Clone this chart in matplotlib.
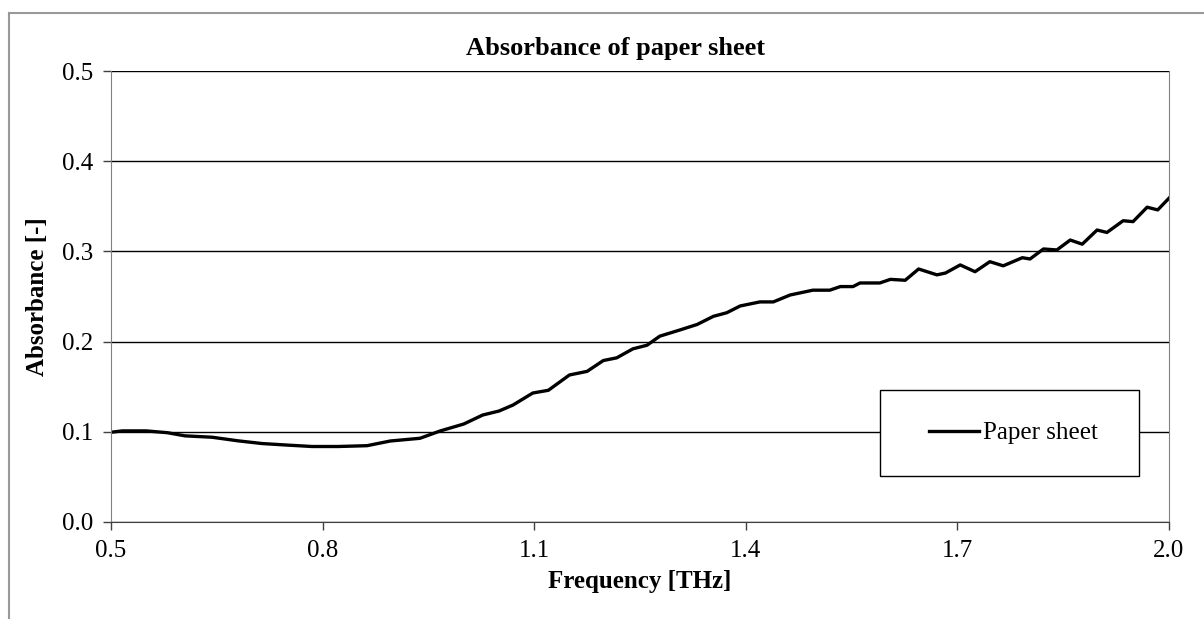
import numpy as np
import matplotlib.pyplot as plt
from matplotlib.lines import Line2D
from matplotlib.patches import Rectangle

freq = [0.500, 0.516, 0.550, 0.580, 0.605, 0.643, 0.680, 0.714, 0.747, 0.785,
        0.822, 0.863, 0.896, 0.938, 0.967, 1.000, 1.027, 1.050, 1.070, 1.098,
        1.120, 1.150, 1.175, 1.198, 1.217, 1.240, 1.260, 1.278, 1.307, 1.331,
        1.354, 1.373, 1.392, 1.420, 1.439, 1.463, 1.477, 1.495, 1.519, 1.534,
        1.552, 1.562, 1.590, 1.605, 1.626, 1.645, 1.671, 1.683, 1.704, 1.725,
        1.746, 1.765, 1.792, 1.803, 1.822, 1.841, 1.860, 1.877, 1.898, 1.912,
        1.935, 1.949, 1.969, 1.984, 2.000]
absorbance = [0.0995, 0.101, 0.101, 0.099, 0.0955, 0.094, 0.090, 0.087, 0.0854, 0.0837,
              0.0837, 0.0846, 0.0898, 0.0928, 0.101, 0.1086, 0.1186, 0.123, 0.1297, 0.143,
              0.146, 0.163, 0.167, 0.179, 0.182, 0.192, 0.196, 0.206, 0.213, 0.219,
              0.228, 0.232, 0.2395, 0.244, 0.244, 0.2517, 0.254, 0.257, 0.257, 0.261,
              0.261, 0.265, 0.265, 0.269, 0.268, 0.2805, 0.274, 0.276, 0.285, 0.2775,
              0.2886, 0.284, 0.293, 0.2916, 0.3027, 0.3016, 0.3126, 0.308, 0.3237, 0.321,
              0.334, 0.333, 0.349, 0.346, 0.359]

xticks = [0.5, 0.8, 1.1, 1.4, 1.7, 2.0]
yticks = [0.0, 0.1, 0.2, 0.3, 0.4, 0.5]

plt.rcParams['font.family'] = ['Liberation Serif', 'DejaVu Serif']

fig = plt.figure(figsize=(12.04, 6.19), dpi=100)
ax = fig.add_axes([111/1204, 1 - 522/619, 1058/1204, 451/619])

ax.plot(freq, absorbance, color='black', linewidth=2.4, label='Paper sheet')

ax.set_xlim(0.5, 2.0)
ax.set_ylim(0.0, 0.5)
ax.set_xticks(xticks)
ax.set_yticks(yticks)
ax.set_xticklabels([f"{t:.1f}" for t in xticks])
ax.set_yticklabels([f"{t:.1f}" for t in yticks])
ax.tick_params(direction='out', length=6, width=1, labelsize=18, pad=7, color='#404040')
ax.grid(axis='y', color='black', linewidth=1)
ax.set_axisbelow(True)

for s in ['left', 'right']:
    ax.spines[s].set_color('#808080')
ax.spines['top'].set_visible(False)
ax.spines['bottom'].set_color('#404040')

ax.set_xlabel("Frequency [THz]", fontsize=18, fontweight='bold', labelpad=6)
ax.set_ylabel("Absorbance [-]", fontsize=18, fontweight='bold', labelpad=9)
fig.text(615/1204, 1 - 48/619, "Absorbance of paper sheet", fontsize=19,
         fontweight='bold', ha='center', va='center')

# legend box
box = Rectangle((769/1058, 46/451), 259/1058, 86/451, transform=ax.transAxes,
                facecolor='white', edgecolor='black', linewidth=1, zorder=3)
ax.add_patch(box)
leg = ax.legend(loc='center', bbox_to_anchor=((769 + 259/2 + 4)/1058, (46 + 43)/451),
                fontsize=18, frameon=False, handlelength=2.0, handletextpad=0.15,
                borderaxespad=0, borderpad=0)
leg.set_zorder(4)

# outer chart border
fig.add_artist(Line2D([9/1204, 9/1204], [0, 1 - 13/619], color='#999999', lw=1.5))
fig.add_artist(Line2D([9/1204, 1], [1 - 13/619, 1 - 13/619], color='#999999', lw=1.5))

fig.savefig("out.png", dpi=100)
